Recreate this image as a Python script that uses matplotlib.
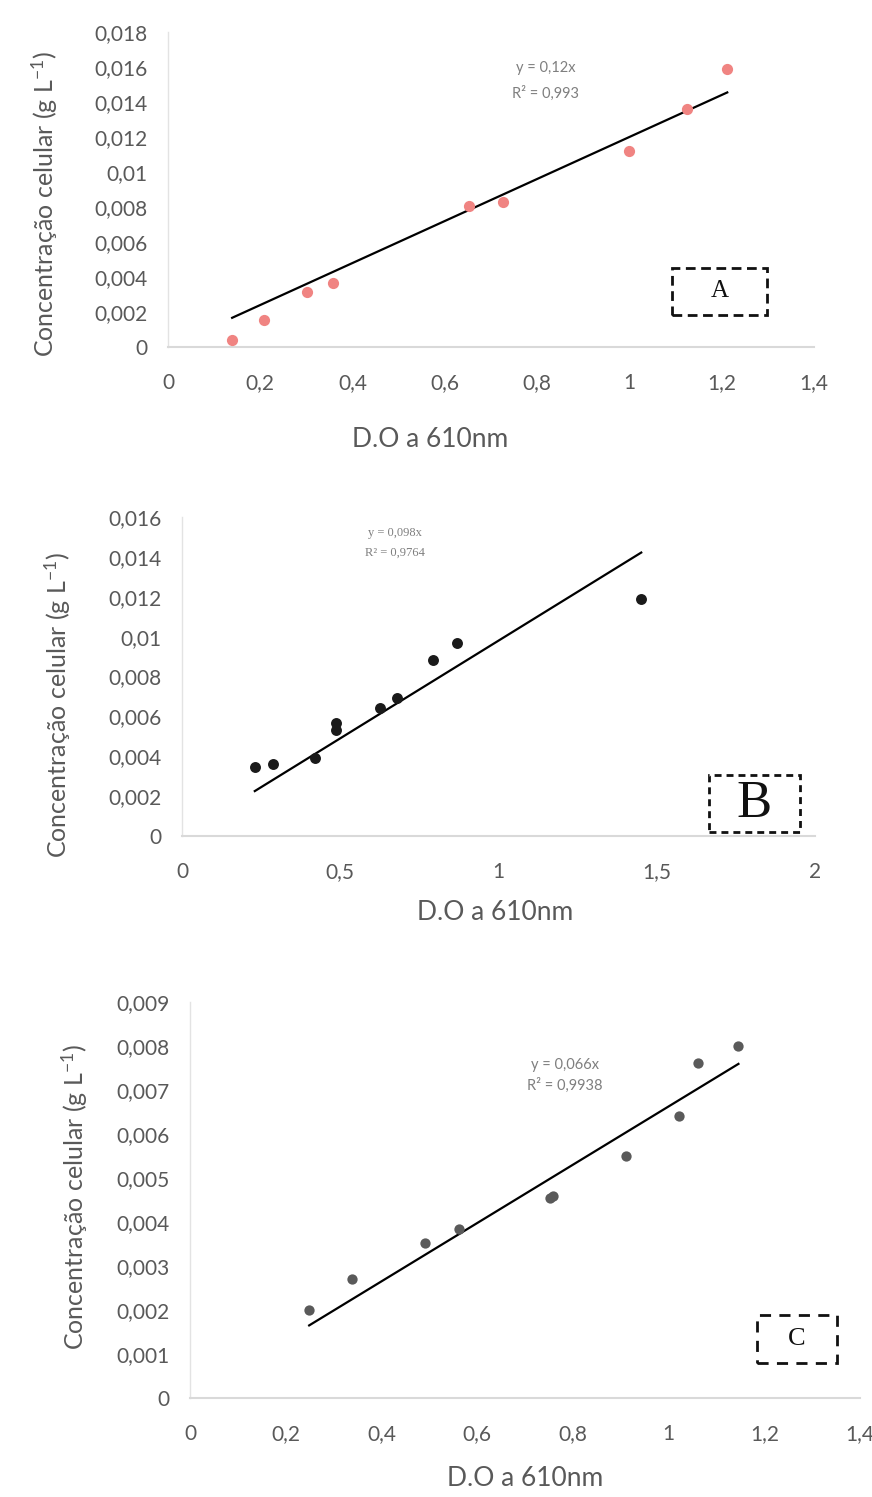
import numpy as np
import matplotlib
matplotlib.use('Agg')
import matplotlib.pyplot as plt
from matplotlib.patches import Rectangle
from matplotlib.ticker import FuncFormatter

plt.rcParams['font.family'] = ['Lato', 'DejaVu Sans']
plt.rcParams['mathtext.fontset'] = 'custom'
plt.rcParams['mathtext.rm'] = 'Lato'
plt.rcParams['mathtext.it'] = 'Lato'

# panel A
a_x = [0.139, 0.208, 0.302, 0.358, 0.652, 0.727, 0.998, 1.125, 1.212]
a_y = [0.00042, 0.00153, 0.00316, 0.00364, 0.00804, 0.00829, 0.0112, 0.0136, 0.01586]
a_xticks = [0, 0.2, 0.4, 0.6, 0.8, 1, 1.2, 1.4]
a_yticks = [0, 0.002, 0.004, 0.006, 0.008, 0.01, 0.012, 0.014, 0.016, 0.018]
a_eq = ['y = 0,12x', 'R² = 0,993']

# panel B
b_x = [0.230, 0.287, 0.419, 0.487, 0.487, 0.625, 0.678, 0.793, 0.869, 1.451]
b_y = [0.00348, 0.0036, 0.0039, 0.00532, 0.00566, 0.00641, 0.00691, 0.00884, 0.0097, 0.0119]
b_xticks = [0, 0.5, 1, 1.5, 2]
b_yticks = [0, 0.002, 0.004, 0.006, 0.008, 0.01, 0.012, 0.014, 0.016]
b_eq = ['y = 0,098x', 'R² = 0,9764']

# panel C
c_x = [0.249, 0.338, 0.490, 0.562, 0.753, 0.758, 0.910, 1.021, 1.062, 1.146]
c_y = [0.00201, 0.0027, 0.00352, 0.00383, 0.00454, 0.0046, 0.0055, 0.0064, 0.00761, 0.0080]
c_xticks = [0, 0.2, 0.4, 0.6, 0.8, 1, 1.2, 1.4]
c_yticks = [0, 0.001, 0.002, 0.003, 0.004, 0.005, 0.006, 0.007, 0.008, 0.009]
c_eq = ['y = 0,066x', 'R² = 0,9938']

ylabel = 'Concentração celular (g L$^{-1}$)'
xlabel = 'D.O a 610nm'
GRAY = '#595959'


def comma(v, _pos=None):
    return f'{v:g}'.replace('.', ',')


def draw_panel(fig, rect, xs, ys, xticks, yticks, color, msize, eq, eq_pos, eq_font,
               letter, box, letter_size, dash, ylab_pos, xlab_pos):
    ax = fig.add_axes(rect)
    xs = np.array(xs)
    ys = np.array(ys)
    # linear trend forced through the origin
    slope = np.sum(xs * ys) / np.sum(xs * xs)
    xl = np.array([xs.min(), xs.max()])
    ax.plot(xl, slope * xl, color='black', lw=1.6, zorder=2)
    ax.scatter(xs, ys, s=msize, color=color, zorder=3, linewidths=0)

    ax.set_xlim(xticks[0], xticks[-1])
    ax.set_ylim(yticks[0], yticks[-1])
    ax.set_xticks(xticks)
    ax.set_yticks(yticks)
    ax.xaxis.set_major_formatter(FuncFormatter(comma))
    ax.yaxis.set_major_formatter(FuncFormatter(comma))
    ax.tick_params(length=0, labelsize=15, colors=GRAY)
    ax.tick_params(axis='x', pad=19)
    ax.tick_params(axis='y', pad=15)
    for s in ['top', 'right']:
        ax.spines[s].set_visible(False)
    ax.spines['left'].set_color('#e3e3e3')
    ax.spines['left'].set_linewidth(1.0)
    ax.spines['bottom'].set_color('#d9d9d9')
    ax.spines['bottom'].set_linewidth(1.5)

    ax.text(eq_pos[0], eq_pos[1], eq[0], transform=ax.transAxes, ha='center', va='center',
            color='#7f7f7f', **eq_font)
    ax.text(eq_pos[0], eq_pos[2], eq[1], transform=ax.transAxes, ha='center', va='center',
            color='#7f7f7f', **eq_font)

    x0, y0, x1, y1 = box
    ax.add_patch(Rectangle((x0, y0), x1 - x0, y1 - y0, transform=ax.transAxes, fill=False,
                           edgecolor='#111111', lw=2.0, linestyle=(0, dash), clip_on=False))
    ax.text((x0 + x1) / 2, (y0 + y1) / 2, letter, transform=ax.transAxes, ha='center',
            va='center', fontsize=letter_size, family='Liberation Serif', color='#111111')

    fig.text(ylab_pos[0] / 872, 1 - ylab_pos[1] / 1497, ylabel, rotation=90, ha='center',
             va='center', fontsize=18, color=GRAY)
    fig.text(xlab_pos[0] / 872, 1 - xlab_pos[1] / 1497, xlabel, ha='center', va='center',
             fontsize=19, color=GRAY)
    return ax


fig = plt.figure(figsize=(8.72, 14.97), dpi=100)

draw_panel(fig, [168 / 872, 1 - 347 / 1497, 646 / 872, 315 / 1497],
           a_x, a_y, a_xticks, a_yticks, '#F08482', 65, a_eq, (0.584, 0.886, 0.806),
           dict(fontsize=10.5), 'A', (0.780, 0.102, 0.927, 0.251), 18, (3.5, 2.0),
           (45, 204), (430, 440))

draw_panel(fig, [182 / 872, 1 - 836 / 1497, 633 / 872, 319 / 1497],
           b_x, b_y, b_xticks, b_yticks, '#1a1a1a', 62, b_eq, (0.336, 0.95, 0.887),
           dict(fontsize=9, family='Liberation Serif'), 'B', (0.8325, 0.0125, 0.976, 0.191),
           38, (2.5, 1.8), (58, 705), (495, 912))

draw_panel(fig, [190 / 872, 1 - 1398 / 1497, 670 / 872, 396 / 1497],
           c_x, c_y, c_xticks, c_yticks, '#5a5a5a', 55, c_eq, (0.56, 0.84, 0.79),
           dict(fontsize=10.5), 'C', (0.846, 0.088, 0.966, 0.21), 19, (4.0, 3.0),
           (75, 1197), (525, 1478))

fig.savefig('out.png', dpi=100)
